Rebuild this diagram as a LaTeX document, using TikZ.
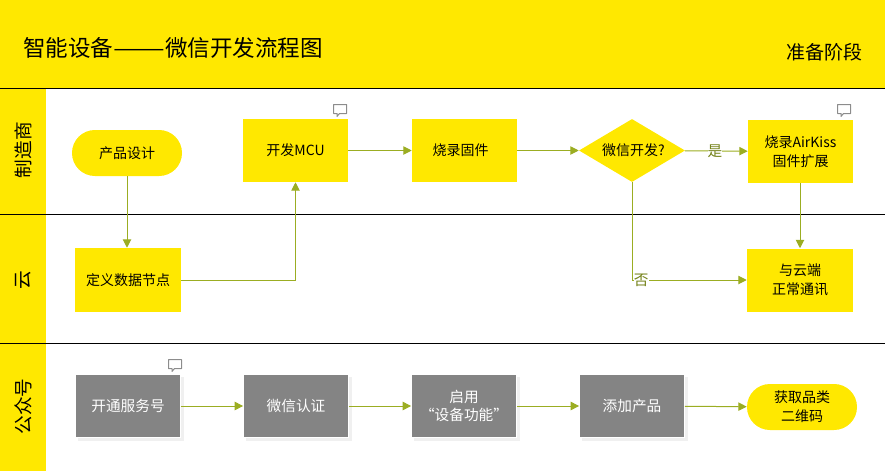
\documentclass[tikz,border=0pt]{standalone}
\usepackage{fontspec}
\usepackage{graphicx}
\setmainfont{Noto Sans CJK SC}
\usetikzlibrary{arrows.meta,shapes.geometric}
\definecolor{laneyellow}{HTML}{FFE800}
\definecolor{flowgreen}{HTML}{9BAD22}
\definecolor{stepgrey}{HTML}{848484}
\definecolor{shadowgrey}{HTML}{F0F0F0}
\definecolor{notegrey}{HTML}{8C8C8C}
\tikzset{
  lanelabel/.style={rotate=90,font=\fontsize{14}{16}\selectfont},
  lanerule/.style={black,line width=0.75pt},
  flow/.style={draw=flowgreen,line width=0.75pt,-{Triangle[length=6.3pt,width=6.3pt]}},
  textstep/.style={font=\fontsize{10.5}{14}\selectfont,align=center,inner sep=0pt},
  yellowstep/.style={textstep,fill=laneyellow,minimum width=78.75pt,minimum height=47.25pt},
  greystep/.style={textstep,font=\fontsize{11}{14}\selectfont,fill=stepgrey,text=white,draw=white,line width=0.6pt,minimum width=78.75pt,minimum height=47.25pt},
  roundstep/.style={textstep,fill=laneyellow,rounded corners=17.2pt,minimum width=82.5pt,minimum height=34.5pt},
  decision/.style={textstep,diamond,aspect=1.68,fill=laneyellow,minimum width=79.5pt,minimum height=47.25pt},
  flowlabel/.style={fill=white,inner sep=0pt,text=flowgreen!75!black,font=\fontsize{11}{12}\selectfont},
  notemark/.style={draw=notegrey,line width=0.75pt,line join=round}
}
\begin{document}
\begin{tikzpicture}[x=0.75pt,y=0.75pt,yscale=-1,xscale=1]
\useasboundingbox (0,0) rectangle (885,471);

%Lanes
\fill[laneyellow] (0,0) rectangle (885,88);
\fill[laneyellow] (0,88) rectangle (46,471);
\draw[lanerule] (0,88.5) -- (885,88.5);
\draw[lanerule] (0,214.5) -- (885,214.5);
\draw[lanerule] (0,343.5) -- (885,343.5);

% Text Node
\node[anchor=west,inner sep=0pt,font=\fontsize{16.9}{20}\selectfont] (title) at (23,48) {智能设备\scalebox{1.37}[1]{——}微信开发流程图};
\node[anchor=east,inner sep=0pt,font=\fontsize{14.25}{18}\selectfont] (stage) at (863,52) {准备阶段};
\node[lanelabel] (maker) at (23,150) {制造商};
\node[lanelabel] (cloud) at (23,280) {云};
\node[lanelabel] (account) at (23,406.5) {公众号};

%Shadows
\foreach \x in {128,296,464,632}
  \fill[shadowgrey] (\x-50,377) rectangle (\x+56,441);

%Maker lane
\node[roundstep] (design) at (127,153) {产品设计};
\node[yellowstep] (mcu) at (295.5,150.5) {开发MCU};
\node[yellowstep] (burn) at (464.5,150.5) {烧录固件\kern6pt};
\node[decision] (wechat) at (632,150.5) {\kern2pt微信开发?};
\node[yellowstep] (airkiss) at (800.5,151.5) {烧录AirKiss\\固件扩展};

%Cloud lane
\node[yellowstep,minimum width=79.5pt,minimum height=48pt] (define) at (128,280) {定义数据节点};
\node[yellowstep,minimum width=79.5pt] (comms) at (800,280) {与云端\\正常通讯};

%Account lane
\node[greystep] (open) at (128,406) {开通服务号};
\node[greystep] (certify) at (296,406) {微信认证};
\node[greystep] (enable) at (464,406) {启用\\“设备功能”};
\node[greystep] (addprod) at (632,406) {添加产品};
\node[roundstep] (qrcode) at (802,407) {获取品类\\二维码};

%Flows
\draw[flow] (design) -- (design|-define.north);
\draw[flow] (define) -| (mcu);
\draw[flow] (mcu) -- (burn);
\draw[flow] (burn) -- (wechat);
\draw[flow] (wechat) -- node[flowlabel,pos=0.48] (yes) {是} (airkiss);
\draw[flow] (comms|-airkiss.south) -- (comms);
\draw[flow] (wechat) |- node[flowlabel,pos=0.54] (no) {否} (comms);
\draw[flow] (open) -- (certify);
\draw[flow] (certify) -- (enable);
\draw[flow] (enable) -- (addprod);
\draw[flow] (addprod) -- (qrcode);

%Note marks
\foreach \x/\y in {340/110,844/110,175/365}
  \draw[notemark,shift={(\x,\y)}] (-6.5,-5.5) -- (6.5,-5.5) -- (6.5,3.5) -- (-0.5,3.5) -- (-3,6.5) -- (-3,3.5) -- (-6.5,3.5) -- cycle;

\end{tikzpicture}
\end{document}
